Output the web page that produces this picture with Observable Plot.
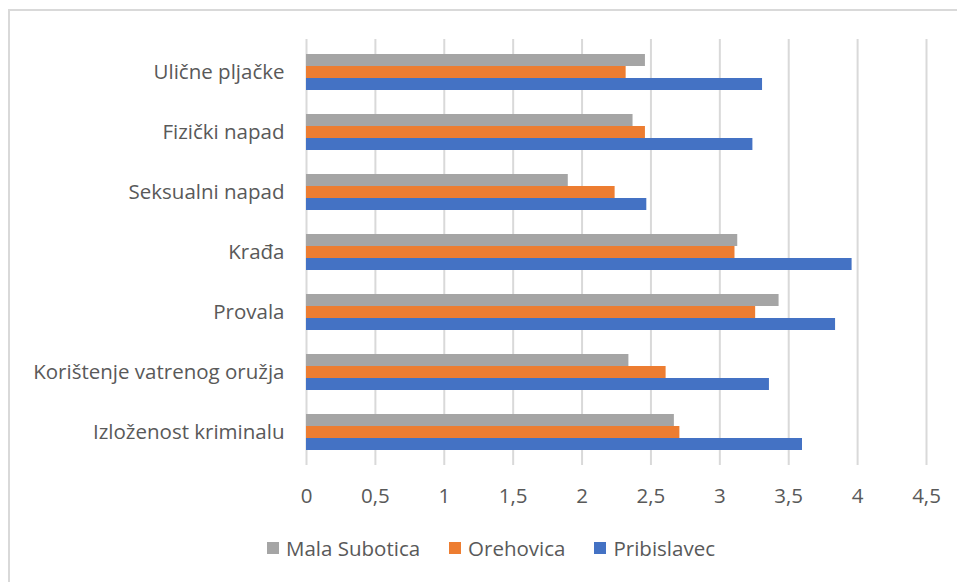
<!DOCTYPE html>
<html><head><meta charset="utf-8">
<script src="https://cdn.jsdelivr.net/npm/d3@7"></script>
<script src="https://cdn.jsdelivr.net/npm/@observablehq/plot@0.6"></script>
<style>
body{margin:0;background:#fff;font-family:"Open Sans",sans-serif;overflow:hidden;}
#frame{position:absolute;left:8px;top:9px;width:1000px;height:1000px;border-top:2px solid #d9d9d9;border-left:2px solid #d9d9d9;}
#chart{position:absolute;left:0;top:0;}
#legend{position:absolute;top:535px;left:267px;display:flex;align-items:center;font-size:20.5px;color:#595959;height:26px;}
.item{display:flex;align-items:center;margin-right:29px;}
.sw{width:12px;height:12px;margin-right:7px;}
</style></head>
<body>
<div id="frame"></div>
<div id="chart"></div>
<div id="legend"></div>
<script>
const categories = ["Ulične pljačke","Fizički napad","Seksualni napad","Krađa","Provala","Korištenje vatrenog oružja","Izloženost kriminalu"];
const series = ["Mala Subotica","Orehovica","Pribislavec"];
const malaSubotica = [2.46, 2.37, 1.90, 3.13, 3.43, 2.34, 2.67];
const orehovica    = [2.32, 2.46, 2.24, 3.11, 3.26, 2.61, 2.71];
const pribislavec  = [3.31, 3.24, 2.47, 3.96, 3.84, 3.36, 3.60];
const colors = ["#A5A5A5","#ED7D31","#4472C4"];
const xTicks = [0,0.5,1,1.5,2,2.5,3,3.5,4,4.5];

const valuesBySeries = [malaSubotica, orehovica, pribislavec];
const data = [];
categories.forEach((c,i)=>series.forEach((s,j)=>data.push({category:c, series:s, key:c+"|"+s, value:valuesBySeries[j][i]})));
const yDomain = categories.flatMap(c=>[c+"|pre", ...series.map(s=>c+"|"+s), c+"|post"]);

const chart = Plot.plot({
  width:957, height:515,
  marginLeft:306, marginRight:31, marginTop:39, marginBottom:50,
  style:{fontFamily:"'Open Sans',sans-serif", fontSize:"20.5px", color:"#595959", background:"transparent"},
  x:{domain:[0,4.5], ticks:xTicks, tickFormat:d=>String(d).replace(".",","), tickSize:0, tickPadding:23, label:null},
  y:{type:"band", domain:yDomain, padding:0, axis:null},
  color:{domain:series, range:colors},
  marks:[
    Plot.ruleX(xTicks, {x:d=>d, stroke:"#d9d9d9", strokeWidth:2}),
    Plot.barX(data, {x:"value", y:"key", fill:"series"}),
    Plot.text(categories, {x:()=>0, y:c=>c+"|Orehovica", text:d=>d, textAnchor:"end", dx:-22, fill:"#595959", fontSize:20.5})
  ]
});
document.getElementById("chart").appendChild(chart);

const legend = document.getElementById("legend");
series.forEach((s,i)=>{
  const it = document.createElement("div"); it.className="item";
  const sw = document.createElement("div"); sw.className="sw"; sw.style.background=colors[i];
  const t = document.createElement("span"); t.textContent=s;
  it.appendChild(sw); it.appendChild(t); legend.appendChild(it);
});
</script>
</body></html>
